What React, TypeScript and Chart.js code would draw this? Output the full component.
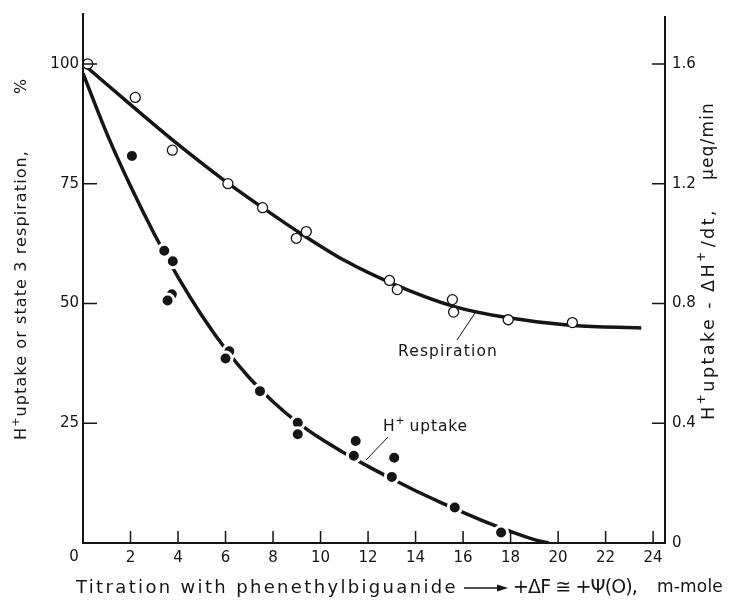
import React, { useEffect, useRef } from 'react';
import { Chart, registerables } from 'chart.js';
Chart.register(...registerables);

// Respiration (open circles), % of control
const respX = [0.2, 2.2, 3.76, 6.1, 7.56, 8.98, 9.4, 12.9, 13.23, 15.55, 15.6, 17.9, 20.6];
const respY = [100, 93, 82, 75, 70, 63.6, 65, 54.8, 52.9, 50.8, 48.2, 46.6, 46.0];
// H+ uptake (filled circles), % of control
const hX = [2.06, 3.42, 3.78, 3.74, 3.56, 6.16, 6.0, 7.45, 9.04, 9.04, 11.48, 11.4, 13.1, 13.0, 15.65, 17.6];
const hY = [80.8, 61, 58.8, 51.9, 50.6, 40.0, 38.5, 31.7, 25.1, 22.7, 21.3, 18.2, 17.8, 13.8, 7.4, 2.2];
// Drawn curves
const respCurveX = [0, 2, 4, 6, 8, 9.2, 11, 13, 15.6, 17.9, 20.6, 23.5];
const respCurveY = [100, 91.5, 83.2, 75.5, 68.5, 64.5, 59, 54.2, 49.4, 47, 45.4, 44.9];
const hCurveX = [0, 1, 2, 3, 4, 5, 6, 7, 8, 9, 10, 11, 12, 13, 14, 15, 16, 17, 18, 19, 19.6];
const hCurveY = [98, 85.5, 74.5, 64.5, 55.5, 47.5, 40.5, 34.5, 29.5, 25.3, 21.8, 18.8, 16, 13.4, 10.9, 8.6, 6.4, 4.3, 2.4, 0.7, 0];
// Ticks
const xTicks = [2, 4, 6, 8, 10, 12, 14, 16, 18, 20, 22, 24];
const yTicks = [25, 50, 75, 100];
const y1Ticks = [0, 0.4, 0.8, 1.2, 1.6];

const FONT = '"DejaVu Sans", sans-serif';
const INK = '#151515';

type Piece = { t: string; sup?: boolean; gap?: number };

// Draws a run of text pieces (with superscripts) stretched to a target length
function fitPieces(ctx: CanvasRenderingContext2D, pieces: Piece[], x0: number, y0: number, width: number, size: number) {
  const c = ctx as any;
  c.letterSpacing = '0px';
  let natural = 0;
  let chars = 0;
  for (const p of pieces) {
    ctx.font = `${p.sup ? size * 0.7 : size}px ${FONT}`;
    natural += ctx.measureText(p.t).width + (p.gap || 0);
    chars += [...p.t].length;
  }
  const ls = (width - natural) / chars;
  let x = x0;
  for (const p of pieces) {
    const s = p.sup ? size * 0.7 : size;
    ctx.font = `${s}px ${FONT}`;
    c.letterSpacing = '0px';
    const w = ctx.measureText(p.t).width;
    c.letterSpacing = `${ls}px`;
    ctx.fillText(p.t, x, p.sup ? y0 - size * 0.4 : y0);
    x += w + ls * [...p.t].length + (p.gap || 0);
  }
  c.letterSpacing = '0px';
  return x;
}

const decor = {
  id: 'decor',
  afterDraw(chart: any) {
    const { ctx, chartArea: ca, scales } = chart;
    const xs = scales.x, ys = scales.y, y1 = scales.y1;
    ctx.save();
    ctx.strokeStyle = INK;
    ctx.fillStyle = INK;
    ctx.lineCap = 'butt';
    // axis lines
    ctx.lineWidth = 2;
    ctx.beginPath();
    ctx.moveTo(ca.left, ca.top - 3);
    ctx.lineTo(ca.left, ca.bottom);
    ctx.lineTo(ca.right, ca.bottom);
    ctx.lineTo(ca.right, ca.top);
    ctx.stroke();
    // inward ticks
    ctx.lineWidth = 1.5;
    ctx.beginPath();
    for (const v of yTicks) {
      const py = ys.getPixelForValue(v);
      ctx.moveTo(ca.left, py);
      ctx.lineTo(ca.left + 14, py);
    }
    for (const v of y1Ticks) {
      if (v === 0) continue;
      const py = y1.getPixelForValue(v);
      ctx.moveTo(ca.right, py);
      ctx.lineTo(ca.right - 13, py);
    }
    for (const v of xTicks) {
      const px = xs.getPixelForValue(v);
      ctx.moveTo(px, ca.bottom);
      ctx.lineTo(px, ca.bottom - 12);
    }
    ctx.stroke();

    // corner zero
    ctx.font = `15px ${FONT}`;
    ctx.textAlign = 'center';
    ctx.textBaseline = 'middle';
    ctx.fillText('0', 74, 557);

    // x title
    ctx.textAlign = 'left';
    fitPieces(ctx, [{ t: 'Titration with phenethylbiguanide' }], 76, 588, 382, 18);
    ctx.lineWidth = 1.3;
    ctx.beginPath();
    ctx.moveTo(464, 588);
    ctx.lineTo(500, 588);
    ctx.stroke();
    ctx.beginPath();
    ctx.moveTo(508, 588);
    ctx.lineTo(497, 584.5);
    ctx.lineTo(497, 591.5);
    ctx.closePath();
    ctx.fill();
    fitPieces(ctx, [{ t: '+ΔF ≅ +Ψ(O),' }], 513, 588, 124, 19);
    fitPieces(ctx, [{ t: 'm-mole' }], 657, 588, 66, 17);

    // left title (rotated)
    ctx.save();
    ctx.translate(22, 440);
    ctx.rotate(-Math.PI / 2);
    ctx.textBaseline = 'middle';
    fitPieces(ctx, [{ t: 'H' }, { t: '+', sup: true }, { t: 'uptake or state 3 respiration,' }], 0, 0, 290, 16);
    ctx.font = `16px ${FONT}`;
    ctx.fillText('%', 346, 0);
    ctx.restore();

    // right title (rotated)
    ctx.save();
    ctx.translate(709, 420);
    ctx.rotate(-Math.PI / 2);
    ctx.textBaseline = 'middle';
    fitPieces(ctx, [
      { t: 'H' }, { t: '+', sup: true },
      { t: 'uptake - ΔH' }, { t: '+', sup: true, gap: 2 },
      { t: '/dt,' },
    ], 0, 0, 212, 17.5);
    fitPieces(ctx, [{ t: 'μeq/min' }], 240, 0, 78, 17);
    ctx.restore();

    // series labels
    ctx.textBaseline = 'middle';
    ctx.textAlign = 'left';
    fitPieces(ctx, [{ t: 'Respiration' }], 398, 352, 100, 15.5);
    fitPieces(ctx, [{ t: 'H' }, { t: '+', sup: true, gap: 4 }, { t: 'uptake' }], 383, 427, 85, 15.5);
    ctx.lineWidth = 1;
    ctx.beginPath();
    ctx.moveTo(457, 340);
    ctx.lineTo(475, 313);
    ctx.moveTo(388, 437);
    ctx.lineTo(366, 460);
    ctx.stroke();
    ctx.restore();
  },
};

export default function App() {
  const ref = useRef<HTMLCanvasElement | null>(null);
  useEffect(() => {
    if (!ref.current) return;
    const tickFont = { family: FONT, size: 15 };
    const chart = new Chart(ref.current, {
      type: 'scatter',
      data: {
        datasets: [
          {
            label: 'H+ uptake',
            data: hX.map((x, i) => ({ x, y: hY[i] })),
            pointRadius: 6.5,
            pointBackgroundColor: INK,
            pointBorderColor: '#ffffff',
            pointBorderWidth: 3,
            showLine: false,
            yAxisID: 'y',
          },
          {
            label: 'Respiration',
            data: respX.map((x, i) => ({ x, y: respY[i] })),
            pointRadius: 5,
            pointBackgroundColor: '#ffffff',
            pointBorderColor: INK,
            pointBorderWidth: 1.3,
            showLine: false,
            yAxisID: 'y',
          },
          {
            label: 'Respiration curve',
            data: respCurveX.map((x, i) => ({ x, y: respCurveY[i] })),
            showLine: true,
            borderColor: INK,
            borderWidth: 3.5,
            pointRadius: 0,
            cubicInterpolationMode: 'monotone',
            yAxisID: 'y',
          },
          {
            label: 'H+ uptake curve',
            data: hCurveX.map((x, i) => ({ x, y: hCurveY[i] })),
            showLine: true,
            borderColor: INK,
            borderWidth: 3.5,
            pointRadius: 0,
            cubicInterpolationMode: 'monotone',
            yAxisID: 'y',
          },
        ],
      },
      options: {
        animation: false,
        responsive: false,
        layout: { padding: { top: 15, left: 0, right: 0, bottom: 0 } },
        plugins: { legend: { display: false }, tooltip: { enabled: false } },
        scales: {
          x: {
            type: 'linear',
            min: 0,
            max: 24.5,
            grid: { display: false, drawTicks: false },
            border: { display: false },
            ticks: { font: tickFont, color: INK, padding: 6, maxRotation: 0, autoSkip: false },
            afterBuildTicks: (s: any) => { s.ticks = xTicks.map((v) => ({ value: v })); },
            afterFit: (s: any) => { s.height = 59; },
          },
          y: {
            type: 'linear',
            position: 'left',
            min: 0,
            max: 110,
            grid: { display: false, drawTicks: false },
            border: { display: false },
            ticks: { font: tickFont, color: INK, padding: 4, autoSkip: false },
            afterBuildTicks: (s: any) => { s.ticks = yTicks.map((v) => ({ value: v })); },
            afterFit: (s: any) => { s.width = 83; },
          },
          y1: {
            type: 'linear',
            position: 'right',
            min: 0,
            max: 1.76,
            grid: { display: false, drawTicks: false },
            border: { display: false },
            ticks: { font: tickFont, color: INK, padding: 7, autoSkip: false, callback: (v: any) => (v === 0 ? '0' : Number(v).toFixed(1)) },
            afterBuildTicks: (s: any) => { s.ticks = y1Ticks.map((v) => ({ value: v })); },
            afterFit: (s: any) => { s.width = 70; },
          },
        },
      },
      plugins: [decor],
    } as any);
    return () => chart.destroy();
  }, []);
  return (
    <div style={{ position: 'absolute', left: 0, top: 0, width: 735, height: 602, background: '#fff' }}>
      <canvas ref={ref} width={735} height={602} style={{ width: 735, height: 602 }} />
    </div>
  );
}
